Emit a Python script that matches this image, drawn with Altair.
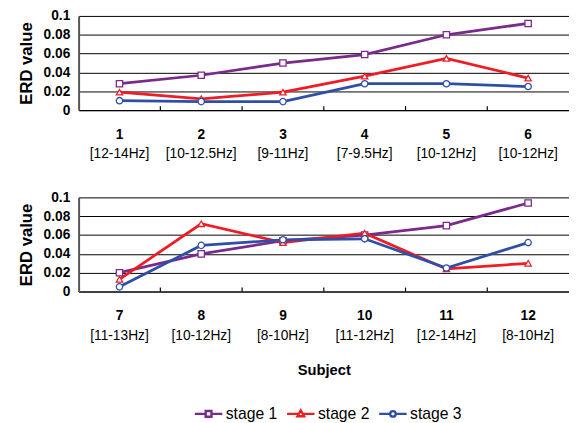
import altair as alt
import pandas as pd

subjects = [1, 2, 3, 4, 5, 6, 7, 8, 9, 10, 11, 12]
bands = ["[12-14Hz]", "[10-12.5Hz]", "[9-11Hz]", "[7-9.5Hz]", "[10-12Hz]", "[10-12Hz]",
         "[11-13Hz]", "[10-12Hz]", "[8-10Hz]", "[11-12Hz]", "[12-14Hz]", "[8-10Hz]"]
stage1 = [0.028, 0.037, 0.050, 0.059, 0.080, 0.092, 0.020, 0.040, 0.054, 0.060, 0.070, 0.094]
stage2 = [0.019, 0.012, 0.019, 0.036, 0.055, 0.034, 0.013, 0.072, 0.052, 0.062, 0.024, 0.030]
stage3 = [0.010, 0.009, 0.009, 0.028, 0.028, 0.025, 0.005, 0.049, 0.055, 0.056, 0.025, 0.052]
stages = ["stage 1", "stage 2", "stage 3"]
colors = ["#7A2A8A", "#EE1D25", "#2F4FA6"]
shapes = ["square", "triangle-up", "circle"]
y_ticks = [0, 0.02, 0.04, 0.06, 0.08, 0.1]

legend_paths = [
    "M-1,0H-0.21M0.21,0H1M-0.21,-0.21H0.21V0.21H-0.21Z",
    "M-1,0H-0.14M0.14,0H1M0,-0.25L0.24,0.17L-0.24,0.17Z",
    "M-1,0H-0.2M0.2,0H1M0.2,0A0.2,0.2 0 1,1 -0.2,0A0.2,0.2 0 1,1 0.2,0Z",
]

rows = []
for s, vals in zip(stages, [stage1, stage2, stage3]):
    for subj, band, v in zip(subjects, bands, vals):
        rows.append({"subject": subj, "band": band, "stage": s, "value": v,
                     "num": str(subj)})
df = pd.DataFrame(rows)

W = 500
H = 96
FONT = "Liberation Sans"


def panel(lo, hi, last):
    d = df[(df.subject >= lo) & (df.subject <= hi)]
    xs = alt.Scale(domain=[lo - 0.5, hi + 0.5], nice=False, zero=False)
    xaxis = alt.Axis(labels=False, ticks=False, grid=False, domainColor="black",
                     domainWidth=1.2,
                     title="Subject" if last else None, titleFontSize=15,
                     titleFontWeight="bold", titleFont=FONT, titleColor="black",
                     titlePadding=73)
    x = alt.X("subject:Q", scale=xs, axis=xaxis)
    y = alt.Y("value:Q", scale=alt.Scale(domain=[0, 0.1], nice=False),
              axis=alt.Axis(values=y_ticks, grid=True, gridColor="black", gridWidth=1,
                            ticks=False, domainColor="#555555", domainWidth=2,
                            labelExpr="datum.value == 0 ? '0' : format(datum.value, '.2~f')",
                            labelFont=FONT, labelFontSize=14, labelFontWeight="bold",
                            labelColor="black", labelPadding=9,
                            title="ERD value", titleFont=FONT, titleFontSize=17,
                            titleFontWeight="bold", titleColor="black", titlePadding=8))
    layers = []
    base = alt.Chart(d)
    for s, c in zip(stages, colors):
        layers.append(base.transform_filter(alt.datum.stage == s)
                      .mark_line(color=c, strokeWidth=2.8)
                      .encode(x=x, y=y))
    for s, c, sh in zip(stages, colors, shapes):
        layers.append(base.transform_filter(alt.datum.stage == s)
                      .mark_point(shape=sh, size=42, filled=True, fill="white",
                                  stroke=c, strokeWidth=1.3, opacity=1)
                      .encode(x=x, y=y))
    # inward tick marks between categories
    bd = pd.DataFrame({"subject": [v + 0.5 for v in range(lo, hi)]})
    layers.append(alt.Chart(bd).mark_rule(color="black", strokeWidth=1.2)
                  .encode(x=x, y=alt.value(H), y2=alt.value(H - 4)))
    one = base.transform_filter(alt.datum.stage == stages[0])
    layers.append(one.mark_text(font=FONT, fontSize=14, fontWeight="bold", color="black",
                                baseline="middle")
                  .encode(x=x, y=alt.value(H + 25), text="num:N"))
    layers.append(one.mark_text(font=FONT, fontSize=14, color="black", baseline="middle")
                  .encode(x=x, y=alt.value(H + 45), text="band:N"))
    if last:
        layers.append(base.transform_filter("false").mark_point(filled=True, fill="white", opacity=1)
                      .encode(x=x, y=y,
                              stroke=alt.Stroke("stage:N",
                                                scale=alt.Scale(domain=stages, range=colors),
                                                legend=alt.Legend(title=None)),
                              shape=alt.Shape("stage:N",
                                              scale=alt.Scale(domain=stages, range=legend_paths),
                                              legend=alt.Legend(title=None))))
    return alt.layer(*layers).properties(width=W, height=H)


chart = alt.vconcat(panel(1, 6, False), panel(7, 12, True), spacing=30).properties(
    padding={"left": 9, "top": -3, "right": 0, "bottom": 0}
).configure_view(stroke=None).configure_legend(
    orient="none", legendX=117, legendY=390,
    direction="horizontal", symbolSize=784, symbolStrokeWidth=2.4,
    labelFont=FONT, labelFontSize=16, labelColor="black", columnPadding=4,
    symbolFillColor="white", labelOffset=2
)

chart.save("out.html", embed_options={"renderer": "svg", "actions": False})
